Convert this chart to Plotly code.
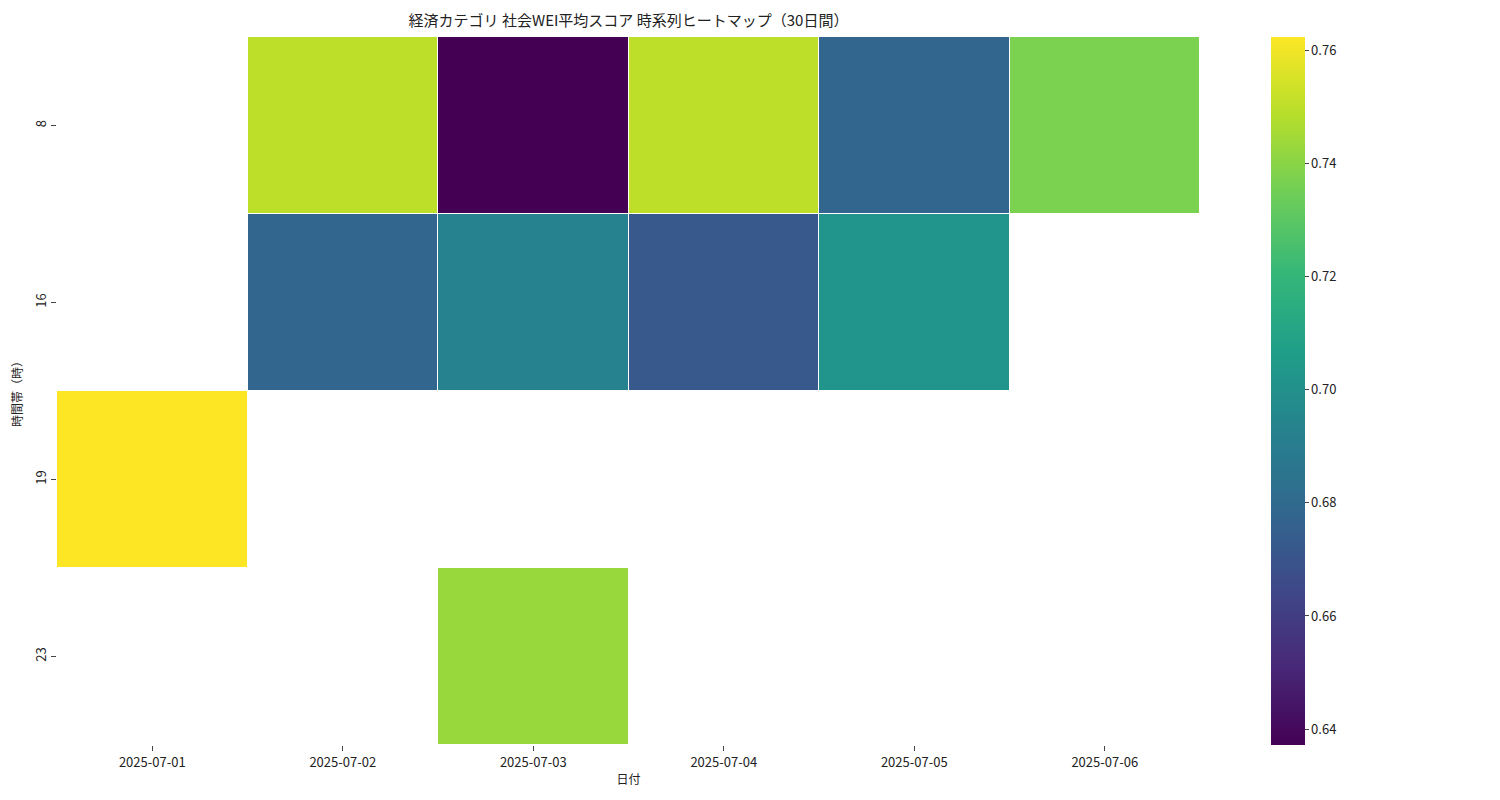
import plotly.graph_objects as go

dates = ["2025-07-01", "2025-07-02", "2025-07-03", "2025-07-04", "2025-07-05", "2025-07-06"]
hours = ["8", "16", "19", "23"]
z_8 = [None, 0.750, 0.6372, 0.750, 0.678, 0.737]
z_16 = [None, 0.678, 0.693, 0.672, 0.702, None]
z_19 = [0.7623, None, None, None, None, None]
z_23 = [None, None, 0.743, None, None, None]

fig = go.Figure(go.Heatmap(
    x=dates, y=hours, z=[z_8, z_16, z_19, z_23],
    colorscale="Viridis", zmin=0.6372, zmax=0.7623,
    xgap=1, ygap=1, hoverongaps=False,
    colorbar=dict(x=1.062, xanchor="left", y=0.5, len=1, lenmode="fraction",
                  thickness=34, outlinewidth=0, ticks="outside", ticklen=4,
                  xpad=0, ypad=0,
                  tickvals=[0.64, 0.66, 0.68, 0.70, 0.72, 0.74, 0.76],
                  ticktext=["0.64", "0.66", "0.68", "0.70", "0.72", "0.74", "0.76"],
                  tickfont=dict(size=13)),
))
fig.update_layout(
    width=1500, height=800, plot_bgcolor="white", paper_bgcolor="white",
    font=dict(family="Noto Sans CJK JP", size=13, color="#222"),
    margin=dict(l=49, r=308, t=29, b=63, autoexpand=False),
    title=dict(text="経済カテゴリ 社会WEI平均スコア 時系列ヒートマップ（30日間）",
               x=0.5, xref="paper", y=0.984, yanchor="middle", font=dict(size=15)),
)
fig.update_xaxes(type="category", showgrid=False, zeroline=False, ticks="outside", ticklen=5,
                 title=dict(text="日付", font=dict(size=12), standoff=6))
fig.update_yaxes(type="category", autorange="reversed", showgrid=False, zeroline=False,
                 ticks="outside", ticklen=5, tickangle=-90,
                 title=dict(text="時間帯（時）", font=dict(size=12), standoff=6))
fig.write_html("out.html")
